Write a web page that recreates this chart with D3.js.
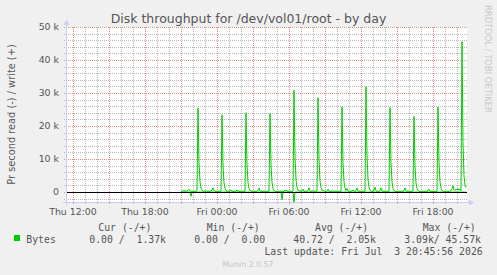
<!DOCTYPE html>
<html><head><meta charset="utf-8">
<script src="https://cdn.jsdelivr.net/npm/d3@7"></script>
<style>body{margin:0;background:#f0f0f0;overflow:hidden}</style>
</head><body><svg id="c" width="497" height="275"></svg>
<script>
// ---- data (values in k bytes/s, one point per 5 minutes from Thu 21:00) ----
const seriesStart = new Date(2026, 6, 2, 21, 0);
const stepMinutes = 5;
const writeK = [
  0.3,0.2,0.3,0.6,0.3,0.2,0.3,0.5,0.9,0.4,0.2,0.3,0.2,0.3,0.2,0.3,0.4,25.5,9.0,3.1,1.2,0.6,0.3,0.3,
  0.3,0.3,0.3,0.3,0.2,0.3,0.3,0.6,1.3,0.5,0.3,0.2,0.3,0.2,0.3,0.2,0.3,23.4,8.2,2.8,1.1,0.5,0.3,0.2,
  0.3,0.5,0.6,0.3,0.2,0.3,0.2,0.3,0.7,0.3,0.2,0.2,0.3,0.2,0.3,0.2,0.3,24.0,8.4,2.9,1.2,0.5,0.3,0.3,
  0.3,0.2,0.3,0.2,0.3,0.6,1.2,0.4,0.2,0.3,0.2,0.3,0.2,0.3,0.2,0.3,0.3,23.8,8.3,2.9,1.1,0.5,0.3,0.2,
  0.2,0.3,0.2,0.3,0.2,0.3,0.2,0.3,0.4,0.6,0.3,0.2,0.4,0.2,0.3,0.2,0.3,30.8,10.8,3.7,1.5,0.6,0.4,0.3,
  0.3,0.4,0.9,0.3,0.2,0.3,0.2,0.5,1.3,0.4,0.2,0.3,0.4,0.2,0.3,0.2,0.3,28.6,10.0,3.4,1.4,0.6,0.6,0.3,
  0.3,0.2,0.4,0.9,0.3,0.2,0.3,0.2,0.4,0.2,0.3,0.2,0.3,0.2,0.3,0.2,0.3,25.8,9.0,3.1,1.3,0.5,1.1,0.3,
  0.2,0.3,0.2,0.4,0.6,0.3,0.2,0.5,1.3,0.4,0.2,0.3,0.2,0.3,0.2,0.3,0.3,31.9,11.2,3.8,1.5,0.6,0.3,0.2,
  0.3,0.6,1.5,0.4,0.2,0.3,0.2,0.5,1.3,0.4,0.2,0.3,0.2,0.3,0.2,0.3,0.3,25.6,9.0,3.1,1.2,0.5,0.3,0.2,
  0.2,0.2,0.2,0.3,0.2,0.2,0.2,0.5,1.3,0.4,0.2,0.4,0.2,0.3,0.2,0.2,0.3,22.9,8.0,2.7,1.1,0.5,0.3,0.2,
  0.2,0.2,0.3,0.2,0.2,0.3,0.2,0.4,0.9,0.3,0.2,0.2,0.2,0.3,0.2,0.2,0.3,25.8,9.0,3.1,1.3,0.5,0.3,0.2,
  0.2,0.2,0.3,0.2,0.2,0.3,0.6,1.0,1.9,0.8,0.5,0.9,0.6,1.1,0.6,0.9,0.4,45.57,15.0,5.0,2.2,1.37
];
const readK = [
  0,0,0,0,0,0,0,0,0,0,1.3,0,0,0,0,0,0,0,0,0,0,0,0,0,
  0,0,0,0,0,0,0,0,0,0,0,0,0,0,0,0,0,0,0,0,0,0,0,0,
  0,0,0,0,0,0,0,0,0,0,0,0,0,0,0,0,0,0,0,0,0,0,0,0,
  0,0,0,0,0,0,0,0,0,0,0,0,0,0,0,0,0,0,0,0,0,0,0,0,
  0,0,0,0,0,2.3,0,0,0,0,0,0,0,0,0,0,0,3.09,0,0,0,0,0,0,
  0,0,0,0,0,0,0,0,0,0,0,0,0,0,0,0,0,0,0,0,0,0,0,0,
  0,0,0,0,0,0,0,0,0,0,0,0,0,0,0,0,0,0,0,0,0,0,0,0,
  0,0,0,0,0,0,0,0,0,0,0,0,0,0,0,0,0,0,0,0,0,0,0,0,
  0,0,0,0,0,0,0,0,0,0,0,0,0,0,0,0,0,0,0,0,0,0,0,0,
  0,0,0,0,0,0,0,0,0,0,0,0,0,0,0,0,0,0,0,0,0,0,0,0,
  0,0,0,0,0,0,0,0,0,0,0,0,0,0,0,0,0,0,0,0,0,0,0,0,
  0,0,0,0,0,0,0,0,0,0,0,0,0,0,0,0,0,0,0,0,0,0
];
const yTickValues = [0, 10000, 20000, 30000, 40000, 50000];
const yTickLabels = ["0", "10 k", "20 k", "30 k", "40 k", "50 k"];
const legendHeaders = ["Cur (-/+)", "Min (-/+)", "Avg (-/+)", "Max (-/+)"];
const legendValues = ["0.00 /  1.37k", "0.00 /  0.00", "40.72 /  2.05k", "3.09k/ 45.57k"];
const seriesName = "Bytes";
const titleText = "Disk throughput for /dev/vol01/root - by day";
const yAxisTitle = "Pr second read (-) / write (+)";
const lastUpdate = "Last update: Fri Jul  3 20:45:56 2026";
const footer = "Munin 2.0.57";
const sideText = "RRDTOOL / TOBI OETIKER";

// ---- drawing ----
const W = 497, H = 275;
const L = 67, R = 467, T = 27, B = 202;
const svg = d3.select('#c');
svg.append('rect').attr('width', W).attr('height', H).attr('fill', '#f0f0f0');
svg.append('rect').attr('x', L).attr('y', T).attr('width', R - L).attr('height', B - T).attr('fill', '#fff');

const x = d3.scaleTime().domain([new Date(2026, 6, 2, 11, 30), new Date(2026, 6, 3, 20, 50)]).range([L, R]);
const y = d3.scaleLinear().domain([-3000, 50000]).range([B, T]);
const px = v => Math.round(v) + 0.5;

const minorCol = '#b9b9b9', majorCol = '#e38c8c';
const g = svg.append('g').attr('shape-rendering', 'crispEdges');

// vertical grid
const hours = x.ticks(d3.timeHour.every(1));
hours.forEach(t => {
  const major = t.getHours() % 3 === 0;
  g.append('line').attr('x1', px(x(t))).attr('x2', px(x(t))).attr('y1', T).attr('y2', B + 3)
    .attr('stroke', major ? majorCol : minorCol).attr('stroke-dasharray', '1,1');
});
// horizontal grid
d3.range(-2000, 50001, 2000).forEach(v => {
  const major = v % 10000 === 0;
  g.append('line').attr('x1', L - 3).attr('x2', R).attr('y1', px(y(v))).attr('y2', px(y(v)))
    .attr('stroke', major ? majorCol : minorCol).attr('stroke-dasharray', '1,1');
});

// axes lines (light blue) with arrows
const axCol = '#c7cdf2';
g.append('line').attr('x1', px(L - 1)).attr('x2', px(L - 1)).attr('y1', T - 3).attr('y2', B + 4).attr('stroke', axCol);
g.append('line').attr('x1', L - 4).attr('x2', R + 3).attr('y1', px(B)).attr('y2', px(B)).attr('stroke', axCol);
svg.append('path').attr('d', `M${L - 3.5},${T - 2} L${L + 2.5},${T - 2} L${L - 0.5},${T - 7} Z`).attr('fill', axCol);
svg.append('path').attr('d', `M${R + 2},${B - 2.5} L${R + 2},${B + 3.5} L${R + 7},${B + 0.5} Z`).attr('fill', axCol);

// y tick labels
const font = "'DejaVu Sans', sans-serif";
const txtCol = '#555';
yTickValues.forEach((v, i) => {
  svg.append('text').attr('x', 59).attr('y', y(v)).attr('dy', '0.36em').attr('text-anchor', 'end')
    .attr('font-family', font).attr('font-size', 9.4).attr('fill', txtCol).text(yTickLabels[i]);
});
// x tick labels
const fmt = d3.timeFormat('%a %H:%M');
x.ticks(d3.timeHour.every(6)).forEach(t => {
  svg.append('text').attr('x', x(t)).attr('y', 215).attr('text-anchor', 'middle')
    .attr('font-family', font).attr('font-size', 9.4).attr('fill', txtCol).text(fmt(t));
});

// data lines
const tAt = i => d3.timeMinute.offset(seriesStart, i * stepMinutes);
const line = d3.line().x(d => x(d.t)).y(d => y(d.v));
const writes = writeK.map((v, i) => ({ t: tAt(i), v: v * 1000 }));
const reads = readK.map((v, i) => ({ t: tAt(i), v: -v * 1000 }));
svg.append('path').datum(reads).attr('d', line).attr('fill', 'none').attr('stroke', '#00cc00').attr('stroke-width', 1);
svg.append('path').datum(writes).attr('d', line).attr('fill', 'none').attr('stroke', '#00cc00').attr('stroke-width', 1);

// zero line
svg.append('line').attr('x1', L).attr('x2', R).attr('y1', px(y(0))).attr('y2', px(y(0)))
  .attr('stroke', '#000').attr('shape-rendering', 'crispEdges');

// title
svg.append('text').attr('x', 248.5).attr('y', 23).attr('text-anchor', 'middle')
  .attr('font-family', font).attr('font-size', 12.5).attr('fill', txtCol).text(titleText);
// y axis title
svg.append('text').attr('transform', `translate(15,${(T + B) / 2}) rotate(-90)`).attr('text-anchor', 'middle')
  .attr('font-family', font).attr('font-size', 9.8).attr('fill', txtCol).text(yAxisTitle);
// side text
svg.append('text').attr('transform', 'translate(485,5) rotate(90)').attr('text-anchor', 'start')
  .attr('font-family', font).attr('font-size', 8.4).attr('fill', '#c8c8c8').text(sideText);

// legend
const mono = "'DejaVu Sans Mono', monospace";
const headX = [98.3, 206.7, 315, 422.7];
const valX = [89.3, 194.3, 293.3, 404.3];
legendHeaders.forEach((h, i) => {
  svg.append('text').attr('x', headX[i]).attr('y', 231).attr('font-family', mono).attr('font-size', 9.8)
    .attr('fill', txtCol).style('white-space', 'pre').text(h);
});
svg.append('rect').attr('x', 14).attr('y', 235).attr('width', 6).attr('height', 6).attr('fill', '#00cc00');
svg.append('text').attr('x', 26.3).attr('y', 243).attr('font-family', mono).attr('font-size', 9.8)
  .attr('fill', txtCol).text(seriesName);
legendValues.forEach((v, i) => {
  svg.append('text').attr('x', valX[i]).attr('y', 243).attr('font-family', mono).attr('font-size', 9.8)
    .attr('fill', txtCol).style('white-space', 'pre').text(v);
});
svg.append('text').attr('x', 482.7).attr('y', 255).attr('text-anchor', 'end').attr('font-family', mono)
  .attr('font-size', 9.8).attr('fill', txtCol).style('white-space', 'pre').text(lastUpdate);
svg.append('text').attr('x', 248).attr('y', 267).attr('text-anchor', 'middle').attr('font-family', font)
  .attr('font-size', 7.8).attr('fill', '#c4c4c4').text(footer);
</script></body></html>
